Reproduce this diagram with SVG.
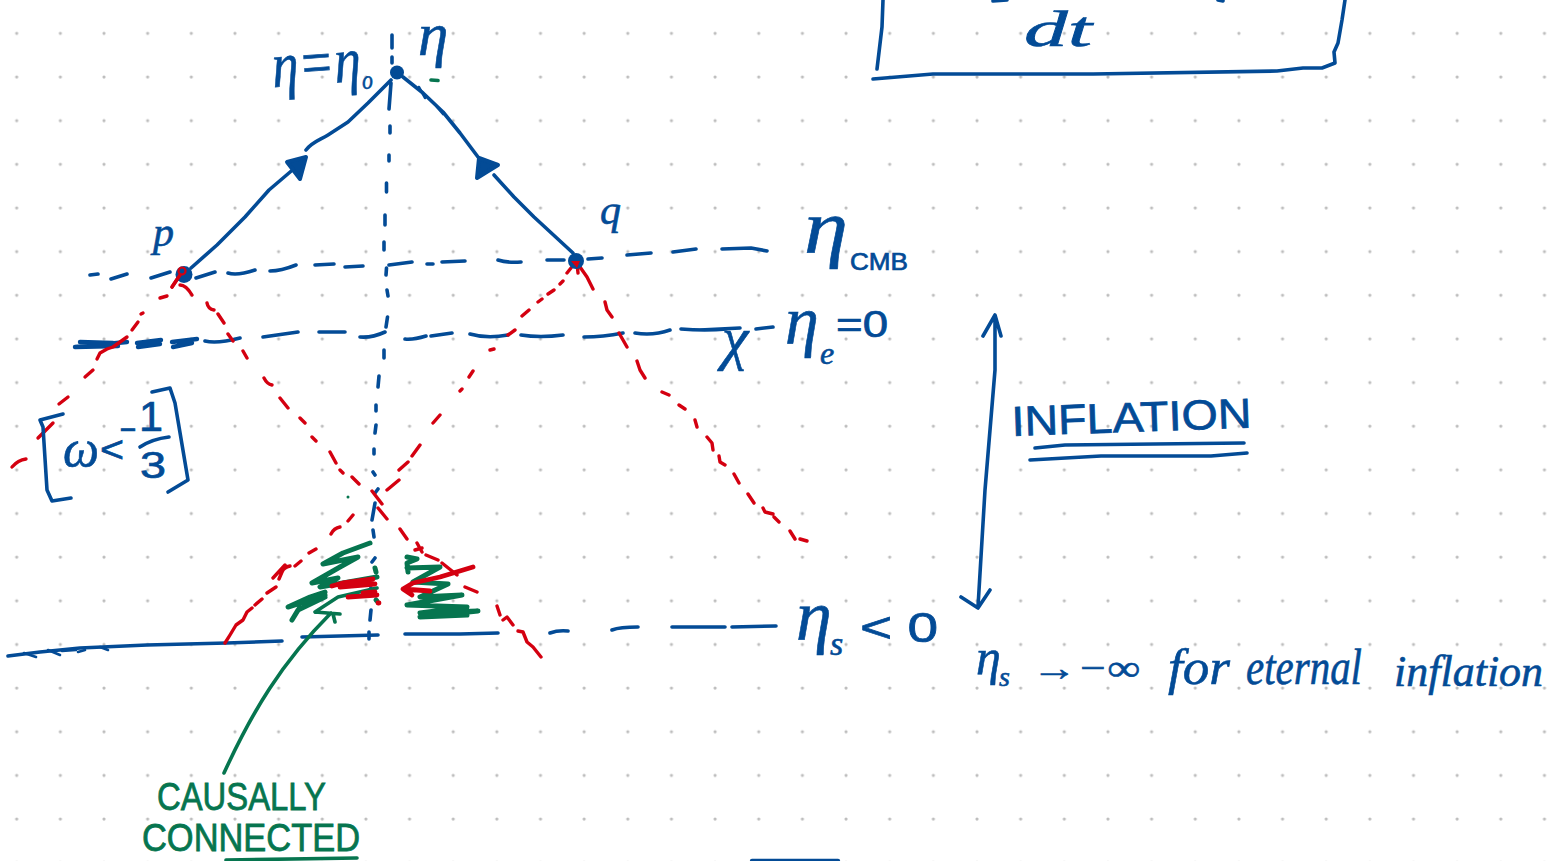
<svg xmlns="http://www.w3.org/2000/svg" width="1554" height="861" viewBox="0 0 1554 861">
<style>
.b,.r,.g{fill:none;stroke-linecap:round;stroke-linejoin:round}
.b{stroke:#034b96;stroke-width:3.6}
.r{stroke:#d40010;stroke-width:3.4}
.g{stroke:#06754f;stroke-width:3.6}
.bb{stroke-width:4.400}
.thin{stroke-width:2.600}
.scr{stroke-width:5}
.rs{stroke-width:4.800}
.bf{fill:#034b96}.rf{fill:#d40010}
.ah{fill:#034b96;stroke:#034b96;stroke-linejoin:round;stroke-width:4}
.h{fill:#034b96;stroke:#034b96;stroke-width:.6;font-family:"Liberation Serif",serif;font-style:italic}
.s{fill:#034b96;stroke:#034b96;stroke-width:.7;font-family:"Liberation Sans",sans-serif}
.gt{fill:#06754f;stroke:#06754f;stroke-width:.8;font-family:"Liberation Sans",sans-serif}
</style>
<defs>
<pattern id="dots" x="16.7" y="33.3" width="43.65" height="43.65" patternUnits="userSpaceOnUse" patternTransform="translate(-3 -3)"><circle cx="3" cy="3" r="1.6" fill="#bdbdbd"/></pattern>
</defs>
<rect width="1554" height="861" fill="#fff"/>
<rect width="1554" height="861" fill="url(#dots)"/>

<g id="connectors">
<g id="light-rays">
<path class="b" d="M191 268L217 245L245 217L269 190L296 167M306 150C312 142 320 140 328 135L348 122L368 103L391 80"/>
<path class="b" d="M403 77L423 93L443 112L460 133L478 157M494 175L514 197L534 217L573 253"/>
<path class="b thin" d="M419 87L425 98M437 107L443 114"/>
<path class="ah" d="M287 162L306 157L300 179Z"/>
<path class="ah" d="M479 158L498 165L477 178Z"/>
</g>
<g id="axis">
<path class="b" d="M392 35V48M392 57V63M391 83L389 109M390 126V133M389 155V161M386.500 183V192M385 215V225M384 242V250M386.500 268L386 275M387 290L388 296M387.500 317L386 327M384 350V358M379 376L378 387M376 405V411M376 425L375 433M374 449V454M373 472L375 475M378 489L375 493M375 503L372 520M373 530L374 537M375 558L372 562M371 588L368 592M371 610L370 620M369 632V639"/>
</g>
<g id="eta-cmb-line">
<path class="b" d="M90 275L98 274M111 279L127 274M151 278L170 272M196 278L215 272M228 273Q237 276 255 270M270 271Q281 271 296 265M315 265L334 264M345 267L363 266M389 265L412 262M427 264L433 264M442 262L465 261M498 260Q507 263 521 262M547 260H564M588 259L602 258M627 255L651 253M673 252L696 249M722 249L751 248L767 251"/>
</g>
<g id="eta-e-line">
<path class="b bb" d="M75 347L127 342M80 342L113 343M75 347L118 346M137 343L161 340M138 347L160 344M172 342L197 339M173 347L192 343"/>
<path class="b" d="M205 341Q217 344 240 338M263 337L298 332M319 332L345 332M360 337Q372 338 385 332M405 339Q413 340 426 336M431 336L452 333M470 334Q487 339 508 335M521 335Q540 338 563 335M584 337Q603 337 623 333M635 333Q653 336 670 330M681 329Q705 331 727 329M700 330L740 328M756 329L773 327"/>
</g>
<g id="eta-s-line">
<path class="b" d="M8 656L40 652L80 648L147 645L227 643L282 641M302 637L378 635M405 634L460 634L498 633M550 633Q558 630 568 631M612 630Q620 627 638 627M672 627L725 627M732 627L776 626"/>
<path class="b thin" d="M24 653L36 657M48 650L60 655M62 651L76 650M78 652L85 650M100 647L108 650"/>
</g>
<g id="red-cones">
<path class="r" d="M172 287L180 275L182 271M180 285Q186 285 192 295M160 298L167 296M141 314L143 313M132 330L138 322M127 337L113 347L107 349L100 353L97 359M93 370L85 377M68 397L59 404M53 423L38 438M26 459Q18 460 12 467"/>
<path class="r" d="M207 303Q208 309 214 310M218 314L224 323M228 334L233 341M243 351L247 358M264 378Q267 384 272 385M280 398L288 408M300 418L305 423M312 437L316 441M330 452L336 463M340 470L343 473M352 477L359 484M372 491L382 504M378 508L387 519M400 529L407 539M417 543L422 552M415 550L422 548M426 555L438 560M442 563L457 575M465 587L477 592M497 606L500 615M503 620L507 617L513 625M518 631L523 632L527 642L533 647L541 657"/>
<path class="r" d="M571 268L567 273M563 281L560 284M554 290L548 294M542 299L538 302M529 310L522 316M515 330L508 335M494 349L490 350M473 371L469 377M462 389L460 391M440 415L433 423M420 445L412 456M408 462L399 470M399 480L387 490M353 515L348 521M340 527Q334 528 331 534M316 549L309 553M301 561L295 566M290 566Q284 567 282 572L279 579M285 565L273 578M276 587L267 593M262 599L255 605M252 608L247 612L243 620L236 625L230 635L225 643"/>
<path class="r" d="M577 263L578 273M580 267L587 277L593 289M605 302L607 310L612 317M619 333L627 347M637 361L640 370L645 378M662 392L669 395M679 405L685 409M695 420L697 427M707 437L712 443L713 450M719 456L720 462L725 465M734 474L739 483M748 494L754 503M763 508L765 512L773 514M774 517L779 522M790 531L795 539M800 539L807 541"/>
</g>
<g id="green-arrow">
<path class="g" d="M224 773C252 712 282 662 331 613M315 612L340 614M333 614L335 622M315 612L338 597L377 588"/>
</g>
<g id="inflation-arrow">
<path class="b" d="M995 315V370L985 490L978 607M983 336L995 315L1001 336M961 597L978 608L990 590"/>
</g>
</g>

<g id="scribbles">
<path class="g scr" d="M370 543L343 553L323 564L358 557L340 567L312 583L338 578L320 587L377 577M325 595L288 607L310 597L325 592M300 607L292 620L298 610L325 597M375 568L376 572M376 600L377 601"/>
<path class="g scr" d="M407 557L417 559L407 563L408 572M407 568L440 567L413 582L448 584L420 597L462 595L407 605L467 607L420 613L478 611L420 617L467 615"/>
<path class="r rs" d="M473 567L440 577L413 583L403 589L430 591M403 589L412 595M373 579L343 583L332 586M340 587L375 584M348 597L377 595M363 593L375 592M378 603L379 603"/>
<circle cx="348" cy="497" r="1.500" fill="#06754f"/>
<path class="g" d="M431 80L438 80.500"/>
</g>

<g id="point-o"><circle cx="397" cy="72.500" r="7" class="bf"/></g>
<g id="point-p"><circle cx="184" cy="274.500" r="8.500" class="bf"/><circle cx="182" cy="271" r="3.500" fill="none" stroke="#d40010" stroke-width="2.200"/><path class="r" d="M180 275L172 287"/></g>
<g id="point-q"><circle cx="576" cy="261" r="8" class="bf"/><path class="rf" d="M571 261H580L577 268Z"/></g>

<g id="label-eta-top"><text class="h" x="418" y="55" font-size="61">η</text></g>
<g id="label-eta-0"><text class="h" transform="rotate(-4 275 85)" x="273" y="87" font-size="64" textLength="100" lengthAdjust="spacingAndGlyphs">η=η<tspan font-size="26" dy="8">o</tspan></text></g>
<g id="label-p"><text class="h" x="153" y="246" font-size="42">p</text></g>
<g id="label-q"><text class="h" x="600" y="224" font-size="42">q</text></g>
<g id="label-eta-cmb"><text class="h" x="804" y="253" font-size="76" textLength="44" lengthAdjust="spacingAndGlyphs">η</text><text class="s" x="850" y="270" font-size="24" textLength="58" lengthAdjust="spacingAndGlyphs">CMB</text></g>
<g id="label-chi"><text class="h" x="722" y="358" font-size="60">χ</text></g>
<g id="label-eta-e"><text class="h" x="785" y="344" font-size="68">η</text><text class="h" x="820" y="364" font-size="32">e</text><text class="s" x="836" y="337" font-size="36" textLength="52" lengthAdjust="spacingAndGlyphs">=0</text></g>
<g id="label-w"><path class="b" d="M63 414L40 420L43 427L47 490L52 501L71 498M152 392L170 388L175 403L188 480L168 492"/><text class="h" x="63" y="466" font-size="52" textLength="36" lengthAdjust="spacingAndGlyphs">ω</text><text class="s" x="100" y="462" font-size="36" textLength="24" lengthAdjust="spacingAndGlyphs">&lt;</text><text class="s" x="119" y="438" font-size="30" textLength="18" lengthAdjust="spacingAndGlyphs">-</text><text class="s" x="139" y="431" font-size="42" textLength="24" lengthAdjust="spacingAndGlyphs">1</text><path class="b" d="M140 447Q152 439 169 437"/><text class="s" x="140" y="478" font-size="36" textLength="26" lengthAdjust="spacingAndGlyphs">3</text></g>
<g id="label-inflation"><text class="s" transform="rotate(-2 1012 436)" x="1012" y="436" font-size="42" textLength="240" lengthAdjust="spacingAndGlyphs">INFLATION</text><path class="b" d="M1035 448L1065 445L1244 443M1030 460L1101 456L1211 456L1247 453"/></g>
<g id="label-eta-s"><text class="h" x="796" y="640" font-size="72">η</text><text class="h" x="830" y="655" font-size="34">s</text><text class="s" x="860" y="642" font-size="42" textLength="78" lengthAdjust="spacingAndGlyphs">&lt; 0</text></g>
<g id="label-eternal"><text class="h" x="976" y="674" font-size="50">η</text><text class="h" x="999" y="686" font-size="28">s</text><text class="h" x="1032" y="680" font-size="36" textLength="108" lengthAdjust="spacingAndGlyphs">→−∞</text><text class="h" x="1168" y="684" font-size="50" textLength="62" lengthAdjust="spacingAndGlyphs">for</text><text class="h" x="1246" y="684" font-size="50" textLength="116" lengthAdjust="spacingAndGlyphs">eternal</text><text class="h" x="1394" y="686" font-size="44">inflation</text></g>
<g id="label-causally"><text class="gt" x="157" y="810" font-size="38" textLength="169" lengthAdjust="spacingAndGlyphs">CAUSALLY</text><text class="gt" x="142" y="851" font-size="38" textLength="218" lengthAdjust="spacingAndGlyphs">CONNECTED</text><path class="g" d="M226 860L357 858"/></g>
<g id="box"><path class="b" d="M883 0L882 27L877 69M873 79L933 74L1093 74L1277 71L1303 68L1322 68L1335 63L1334 52L1338 43L1342 20L1345 0M993 1L1007 0M1218 0L1223 1"/><text class="h" x="1024" y="46" font-size="50" textLength="68" lengthAdjust="spacingAndGlyphs">dt</text></g>
<path class="b bb" d="M752 861H838"/>
</svg>
